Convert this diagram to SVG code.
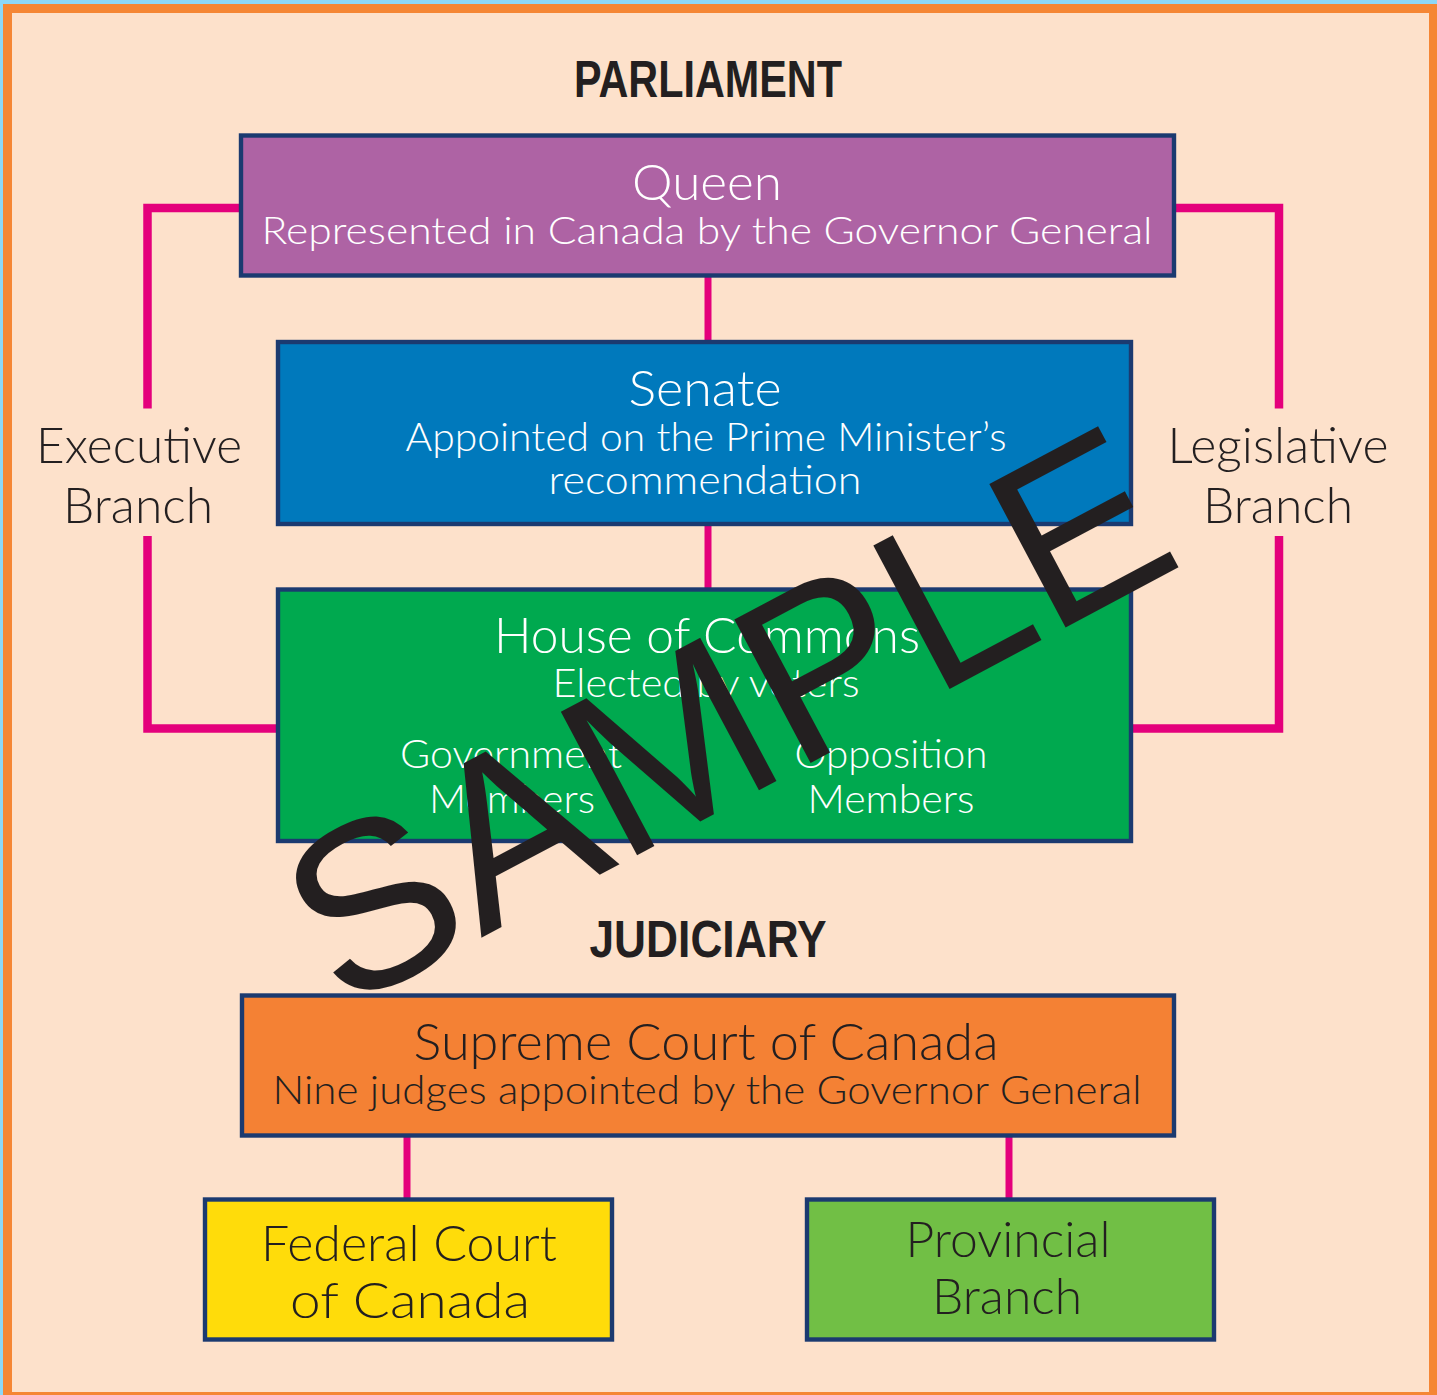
<svg xmlns="http://www.w3.org/2000/svg" width="1437" height="1395" viewBox="0 0 1437 1395">
<style>
.box{stroke:#1b3a70;stroke-width:4.4}
.conn{fill:none;stroke:#e4007c;stroke-linejoin:miter;stroke-linecap:butt}
.t{font-family:Lato,"Liberation Sans",sans-serif;font-weight:300;text-anchor:middle}
.w{fill:#ffffff}
.k{fill:#231f20}
.hd{font-family:"Liberation Sans Narrow","Liberation Sans",sans-serif;font-weight:bold;text-anchor:middle;fill:#231f20}
</style>
<rect x="0" y="0" width="1437" height="1395" fill="#8dd7f7"/>
<rect x="3" y="4" width="1434" height="1391" fill="#f58634"/>
<rect x="12" y="13" width="1417" height="1379" fill="#fde1cb"/>

<g id="connectors">
<path class="conn" stroke-width="8.5" d="M241,208 H147.5 V408.5"/>
<path class="conn" stroke-width="8.5" d="M147.5,536 V728.5 H278"/>
<path class="conn" stroke-width="8.5" d="M1174,208 H1279 V408.5"/>
<path class="conn" stroke-width="8.5" d="M1279,536 V728.5 H1131"/>
<path class="conn" stroke-width="7" d="M708,277 V342"/>
<path class="conn" stroke-width="7" d="M708,524 V590"/>
<path class="conn" stroke-width="7" d="M407,1137 V1199"/>
<path class="conn" stroke-width="7" d="M1009,1137 V1199"/>
</g>

<g id="parliament-title">
<text class="hd" x="708" y="97" font-size="52" textLength="268" lengthAdjust="spacingAndGlyphs">PARLIAMENT</text>
</g>

<g id="queen">
<rect class="box" x="241" y="135.5" width="933" height="140" fill="#ae63a4"/>
<text class="t w" x="707" y="200" font-size="49" textLength="150" lengthAdjust="spacingAndGlyphs">Queen</text>
<text class="t w" x="707" y="244" font-size="38" textLength="891" lengthAdjust="spacingAndGlyphs">Represented in Canada by the Governor General</text>
</g>

<g id="senate">
<rect class="box" x="278" y="342" width="853" height="182" fill="#0079bc"/>
<text class="t w" x="705" y="406" font-size="49" textLength="153" lengthAdjust="spacingAndGlyphs">Senate</text>
<text class="t w" x="706" y="451" font-size="40" textLength="601" lengthAdjust="spacingAndGlyphs">Appointed on the Prime Minister’s</text>
<text class="t w" x="705" y="494" font-size="40" textLength="313" lengthAdjust="spacingAndGlyphs">recommendation</text>
</g>

<g id="house">
<rect class="box" x="278" y="589.5" width="853" height="251.5" fill="#00a94f"/>
<text class="t w" x="707" y="653" font-size="49" textLength="426" lengthAdjust="spacingAndGlyphs">House of Commons</text>
<text class="t w" x="706" y="697" font-size="40" textLength="307" lengthAdjust="spacingAndGlyphs">Elected by voters</text>
<text class="t w" x="511" y="768" font-size="40" textLength="222" lengthAdjust="spacingAndGlyphs">Government</text>
<text class="t w" x="512" y="813" font-size="40" textLength="166" lengthAdjust="spacingAndGlyphs">Members</text>
<text class="t w" x="891" y="768" font-size="40" textLength="193" lengthAdjust="spacingAndGlyphs">Opposition</text>
<text class="t w" x="891" y="813" font-size="40" textLength="167" lengthAdjust="spacingAndGlyphs">Members</text>
</g>

<g id="executive-branch">
<text class="t k" x="139" y="463" font-size="50" textLength="206" lengthAdjust="spacingAndGlyphs">Executive</text>
<text class="t k" x="138" y="523" font-size="50" textLength="150" lengthAdjust="spacingAndGlyphs">Branch</text>
</g>

<g id="legislative-branch">
<text class="t k" x="1278" y="463" font-size="50" textLength="221" lengthAdjust="spacingAndGlyphs">Legislative</text>
<text class="t k" x="1278" y="523" font-size="50" textLength="150" lengthAdjust="spacingAndGlyphs">Branch</text>
</g>

<g id="judiciary-title">
<text class="hd" x="708" y="957" font-size="51" textLength="237" lengthAdjust="spacingAndGlyphs">JUDICIARY</text>
</g>

<g id="supreme-court">
<rect class="box" x="242" y="995.5" width="932" height="140" fill="#f48134"/>
<text class="t k" x="706" y="1060" font-size="51" textLength="585" lengthAdjust="spacingAndGlyphs">Supreme Court of Canada</text>
<text class="t k" x="707" y="1104" font-size="39" textLength="869" lengthAdjust="spacingAndGlyphs">Nine judges appointed by the Governor General</text>
</g>

<g id="federal-court">
<rect class="box" x="205" y="1199.5" width="407" height="140" fill="#ffdc0a"/>
<text class="t k" x="409" y="1261" font-size="50" textLength="296" lengthAdjust="spacingAndGlyphs">Federal Court</text>
<text class="t k" x="410" y="1318" font-size="50" textLength="240" lengthAdjust="spacingAndGlyphs">of Canada</text>
</g>

<g id="provincial-branch">
<rect class="box" x="807" y="1199.5" width="407" height="140" fill="#71bf45"/>
<text class="t k" x="1008" y="1257" font-size="50" textLength="205" lengthAdjust="spacingAndGlyphs">Provincial</text>
<text class="t k" x="1007" y="1314" font-size="50" textLength="150" lengthAdjust="spacingAndGlyphs">Branch</text>
</g>

<g id="watermark">
<text x="342" y="1012" transform="rotate(-28 342 1012)" font-family="'Liberation Sans',Arial,sans-serif" font-size="236" fill="#231f20">SAMPLE</text>
</g>
</svg>
